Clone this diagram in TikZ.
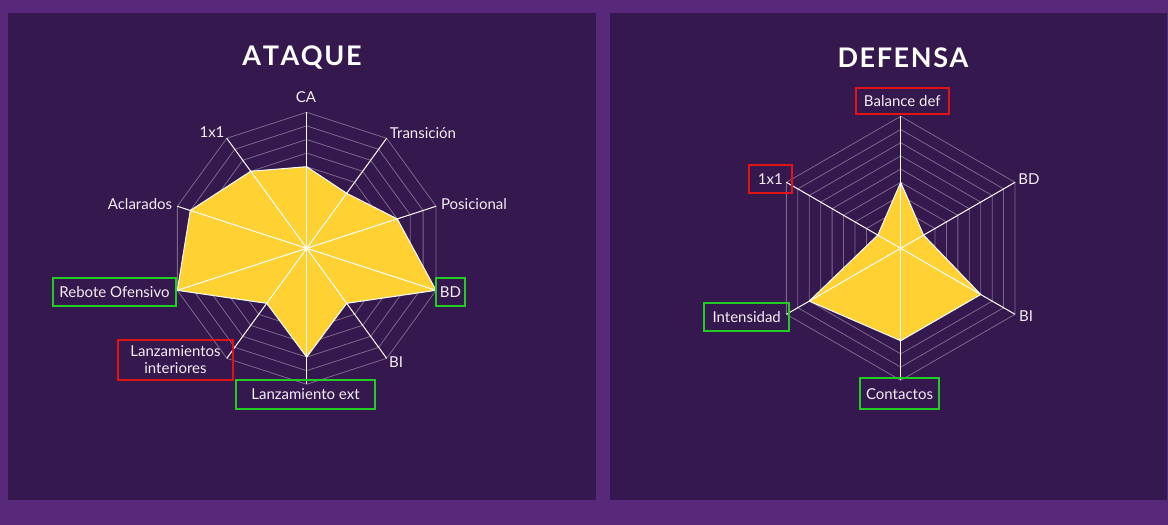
\documentclass[tikz,border=0pt]{standalone}
\usepackage{fontspec}
\setmainfont{Lato}
\definecolor{bgouter}{HTML}{58287A}
\definecolor{panel}{HTML}{35184D}
\definecolor{fillyel}{HTML}{FFD133}
\definecolor{boxgreen}{HTML}{22CC22}
\definecolor{boxred}{HTML}{E01414}
\definecolor{labtxt}{HTML}{F2EEF5}
\newcommand{\tk}{\kern1.6pt}
\tikzset{
  gridline/.style={draw=white, draw opacity=0.35, line width=0.8pt},
  axisline/.style={draw=white, line width=1pt},
  area/.style={fill=fillyel, draw=white, line width=1pt, line join=round},
  lab/.style={text=labtxt, font=\fontsize{15}{17}\selectfont, inner sep=0pt},
  greenbox/.style={lab, draw=boxgreen, line width=2pt, minimum height=28pt, inner xsep=0pt},
  redbox/.style={lab, draw=boxred, line width=2pt, inner xsep=0pt},
  titletext/.style={text=white, font=\fontsize{27}{30}\selectfont\bfseries, inner sep=0pt}
}
\begin{document}
\begin{tikzpicture}[x=1pt,y=-1pt]
\useasboundingbox (0,0) rectangle (1168,525);
\fill[bgouter] (0,0) rectangle (1168,525);
\fill[panel] (8,13) rectangle (596,500);
\fill[panel] (610,13) rectangle (1167,500);

\node[titletext] (t1) at (302,58) {A\tk T\tk A\tk Q\tk U\tk E};
\node[titletext] (t2) at (903,58) {D\tk E\tk F\tk E\tk N\tk S\tk A};

% ---------- ATAQUE radar ----------
\begin{scope}[shift={(306.7,248.3)}, x=1pt, y=1pt]
  \foreach \k in {1,...,10}{
    \draw[gridline] (90:\k*13.6) \foreach \i in {1,...,9}{ -- (90-36*\i:\k*13.6) } -- cycle;
  }
  \draw[area] (90:0.6*136) -- (54:0.5*136) -- (18:0.7*136) -- (-18:1.0*136)
     -- (-54:0.5*136) -- (-90:0.8*136) -- (-126:0.5*136) -- (-162:1.0*136)
     -- (162:0.9*136) -- (126:0.7*136) -- cycle;
  \foreach \i in {0,...,9}{ \draw[axisline] (0,0) -- (90-36*\i:136); }
\end{scope}

\node[lab] (ca) at (306,97) {CA};
\node[lab] (a1x1) at (212,132) {1x1};
\node[lab] (tra) at (423,133) {Transición};
\node[lab] (acl) at (140,204) {Aclarados};
\node[lab] (pos) at (474,204) {Posicional};
\node[greenbox, minimum width=123pt] (reb) at (114.5,292) {Rebote Ofensivo};
\node[greenbox, minimum width=29pt] (bd1) at (450.5,292) {BD};
\node[redbox, minimum width=115pt, minimum height=40pt, align=center] (lint) at (175.5,360)
  {Lanzamientos\\[0pt]interiores};
\node[lab] (bi1) at (396,362) {BI};
\node[greenbox, minimum width=139pt, minimum height=29pt] (lext) at (305.5,394.5) {Lanzamiento ext};

% ---------- DEFENSA radar ----------
\begin{scope}[shift={(900.7,248.3)}, x=1pt, y=1pt]
  \foreach \k in {1,...,10}{
    \draw[gridline] (90:\k*13.2) \foreach \i in {1,...,5}{ -- (90-60*\i:\k*13.2) } -- cycle;
  }
  \draw[area] (90:0.5*132) -- (30:0.2*132) -- (-30:0.7*132) -- (-90:0.7*132)
     -- (-150:0.8*132) -- (150:0.2*132) -- cycle;
  \foreach \i in {0,...,5}{ \draw[axisline] (0,0) -- (90-60*\i:132); }
\end{scope}

\node[redbox, minimum width=93pt, minimum height=26pt] (bal) at (902.3,101) {Balance def};
\node[lab] (bd2) at (1029,179) {BD};
\node[redbox, minimum width=43pt, minimum height=28pt] (d1x1) at (770.3,179) {1x1\hspace{8pt}};
\node[greenbox, minimum width=85pt] (int) at (746.7,316.7) {Intensidad\hspace{4pt}};
\node[lab] (bi2) at (1026,316) {BI};
\node[greenbox, minimum width=79pt, minimum height=31pt] (con) at (899.5,393.8) {Contactos};
\end{tikzpicture}
\end{document}
